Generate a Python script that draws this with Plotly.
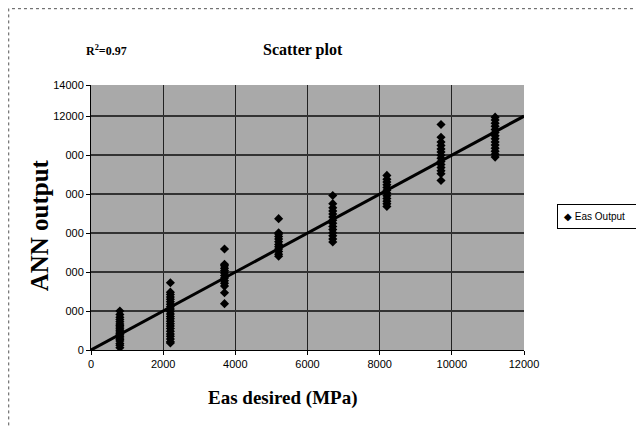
import plotly.graph_objects as go

# Desired Eas levels (MPa) and the ANN outputs at each level
desired_levels = [800, 2200, 3700, 5200, 6700, 8200, 9700, 11200]
out_800 = [120, 250, 330, 460, 540, 610, 700, 780, 850, 930, 1010, 1090, 1180, 1260, 1340, 1450, 1560, 1680, 1820, 2000]
out_2200 = [360, 420, 560, 700, 820, 960, 1100, 1230, 1350, 1480, 1600, 1720, 1850, 1980, 2100, 2220, 2350, 2480, 2600, 2720, 2850, 2970, 3450]
out_3700 = [2380, 2940, 3280, 3420, 3560, 3700, 3820, 3950, 4080, 4200, 4320, 4400, 5180]
out_5200 = [4810, 4920, 5050, 5180, 5300, 5420, 5560, 5700, 5830, 5950, 6020, 6740]
out_6700 = [5540, 5700, 5860, 6020, 6180, 6340, 6500, 6660, 6820, 6980, 7140, 7300, 7510, 7930]
out_8200 = [7370, 7500, 7640, 7780, 7920, 8060, 8200, 8340, 8480, 8620, 8760, 8960]
out_9700 = [8700, 9050, 9200, 9360, 9520, 9680, 9840, 10000, 10160, 10320, 10500, 10670, 10920, 11570]
out_11200 = [9900, 10050, 10200, 10360, 10520, 10680, 10840, 11000, 11160, 11320, 11480, 11640, 11800, 11950]
outputs = [out_800, out_2200, out_3700, out_5200, out_6700, out_8200, out_9700, out_11200]
series_name = "Eas Output"

# Ideal fit line y = x
fit_x = [0, 12000]
fit_y = [0, 12000]

x_ticks = [0, 2000, 4000, 6000, 8000, 10000, 12000]
x_ticktext = ["0", "2000", "4000", "6000", "8000", "10000", "12000"]
y_ticks = [0, 2000, 4000, 6000, 8000, 10000, 12000, 13600]
y_ticktext = ["0", "000", "000", "000", "000", "000", "12000", "14000"]

xs, ys = [], []
for lvl, outs in zip(desired_levels, outputs):
    xs += [lvl] * len(outs)
    ys += outs

fig = go.Figure()
fig.add_trace(go.Scatter(
    x=xs, y=ys, mode="markers", name=series_name, showlegend=False,
    marker=dict(symbol="diamond", size=7, color="black"),
))
fig.add_trace(go.Scatter(
    x=fit_x, y=fit_y, mode="lines", showlegend=False,
    line=dict(color="black", width=3),
))

tick_font = dict(family="Liberation Sans Narrow, Liberation Sans, Arial", size=11, color="black")
serif = "Liberation Serif, Times New Roman, serif"

fig.update_layout(
    width=644, height=427,
    margin=dict(l=83, r=128, t=77, b=85, autoexpand=False),
    paper_bgcolor="white",
    plot_bgcolor="#a9a9a9",
    showlegend=False,
    xaxis=dict(
        range=[0, 12000], tickvals=x_ticks, ticktext=x_ticktext,
        showgrid=True, gridcolor="#222222", gridwidth=1,
        zeroline=False, showline=True, linecolor="black", linewidth=1,
        ticks="outside", ticklen=4, tickcolor="black", tickfont=tick_font,
    ),
    yaxis=dict(
        range=[0, 13600], tickvals=y_ticks, ticktext=y_ticktext,
        showgrid=True, gridcolor="#333333", gridwidth=1.5,
        zeroline=False, showline=True, linecolor="black", linewidth=1,
        ticks="outside", ticklen=4, tickcolor="black", tickfont=tick_font,
    ),
    annotations=[
        dict(text="<b>Scatter plot</b>", xref="paper", yref="paper", x=0.49, y=1.132,
             xanchor="center", yanchor="middle", showarrow=False,
             font=dict(family=serif, size=16, color="black")),
        dict(text="<b>R<sup>2</sup>=0.97</b>", xref="paper", yref="paper", x=0.036, y=1.132,
             xanchor="center", yanchor="middle", showarrow=False,
             font=dict(family=serif, size=12, color="black")),
        dict(text="<b>ANN output</b>", xref="paper", yref="paper", x=-0.118, y=0.47,
             xanchor="center", yanchor="middle", showarrow=False, textangle=-90,
             font=dict(family=serif, size=25, color="black")),
        dict(text="<b>Eas desired (MPa)</b>", xref="paper", yref="paper", x=0.443, y=-0.18,
             xanchor="center", yanchor="middle", showarrow=False,
             font=dict(family=serif, size=19, color="black")),
        # legend box
        dict(text="\u25c6 " + series_name + "  ", xref="paper", yref="paper", x=1.076, y=0.502,
             xanchor="left", yanchor="middle", showarrow=False, align="left",
             bgcolor="white", bordercolor="black", borderwidth=1, borderpad=6,
             font=dict(family="Liberation Sans Narrow, Liberation Sans, Arial", size=10, color="black")),
    ],
    shapes=[
        dict(type="rect", xref="paper", yref="paper", x0=-0.19, x1=1.4, y0=-0.4, y1=1.288,
             line=dict(color="#555555", width=1, dash="dot"), layer="below"),
    ],
)

fig.write_html("out.html")
